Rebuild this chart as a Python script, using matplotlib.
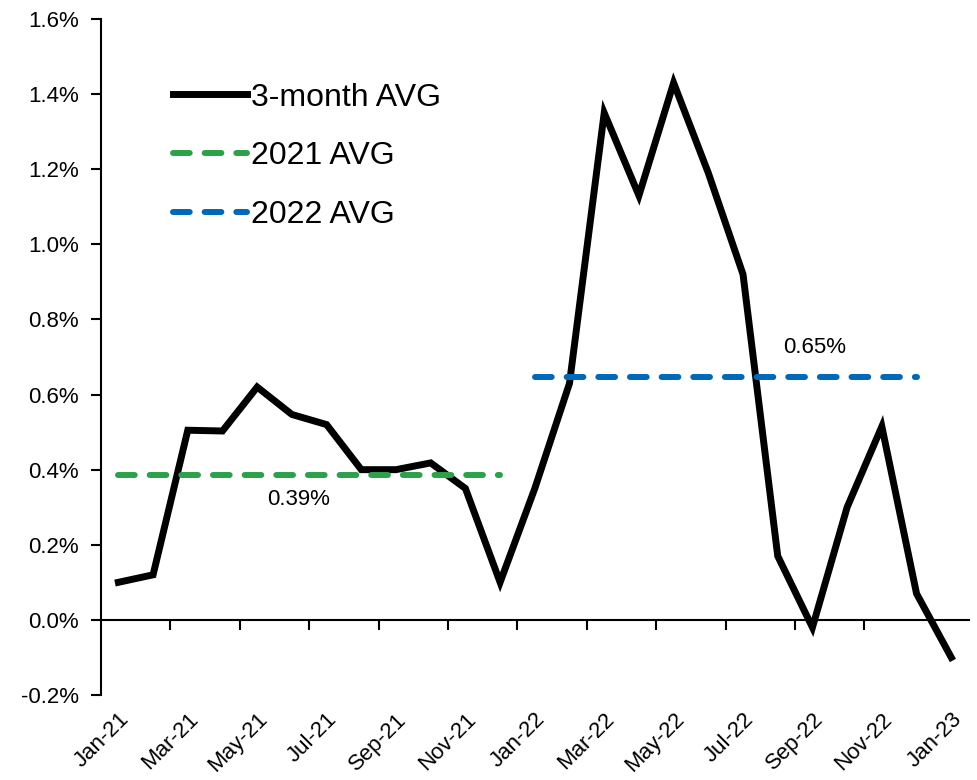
import matplotlib
matplotlib.use('Agg')
import matplotlib.pyplot as plt
from matplotlib.ticker import FuncFormatter

plt.rcParams['font.family'] = ['Liberation Sans', 'DejaVu Sans']

months = ['Jan-21', 'Feb-21', 'Mar-21', 'Apr-21', 'May-21', 'Jun-21', 'Jul-21',
          'Aug-21', 'Sep-21', 'Oct-21', 'Nov-21', 'Dec-21',
          'Jan-22', 'Feb-22', 'Mar-22', 'Apr-22', 'May-22', 'Jun-22', 'Jul-22',
          'Aug-22', 'Sep-22', 'Oct-22', 'Nov-22', 'Dec-22', 'Jan-23']
avg_3m = [0.10, 0.12, 0.505, 0.503, 0.62, 0.547, 0.52, 0.40, 0.40, 0.418, 0.35, 0.10,
          0.35, 0.63, 1.35, 1.13, 1.43, 1.19, 0.92, 0.17, -0.02, 0.30, 0.515, 0.07, -0.10]
avg_2021 = 0.387
avg_2022 = 0.646

green = '#2BA24A'
blue = '#0068B8'

if __name__ == '__main__':

    fig = plt.figure(figsize=(9.77, 7.8), dpi=100)
    ax = fig.add_axes([0.1034, 0.109, 0.888, 0.8666])

    x = list(range(len(months)))
    ax.plot(x, avg_3m, color='black', lw=5.0, solid_joinstyle='miter',
            label='3-month AVG')
    ax.plot(x[0:12], [avg_2021] * 12, color=green, lw=4.3,
            linestyle=(0, (2.8, 2.5)), dash_capstyle='round', label='2021 AVG')
    ax.plot(x[12:24], [avg_2022] * 12, color=blue, lw=4.3,
            linestyle=(0, (2.8, 2.5)), dash_capstyle='round', label='2022 AVG')

    ax.text(5.2, 0.32, '%.2f%%' % avg_2021, fontsize=16, ha='center', va='center')
    ax.text(20.05, 0.725, '%.2f%%' % avg_2022, fontsize=16, ha='center', va='center')

    ax.set_xlim(-0.5, 24.5)
    ax.set_ylim(-0.2, 1.6)
    ax.set_yticks([i * 0.2 - 0.2 for i in range(10)])
    ax.yaxis.set_major_formatter(FuncFormatter(lambda v, p: '%.1f%%' % v))
    ax.tick_params(axis='y', direction='out', length=7, width=1.5, labelsize=16, pad=9)

    # x axis line sits at zero, tick marks between every second month
    ax.spines['bottom'].set_position(('data', 0))
    ax.spines['top'].set_visible(False)
    ax.spines['right'].set_visible(False)
    ax.spines['bottom'].set_linewidth(1.5)
    ax.spines['left'].set_linewidth(1.5)
    ax.set_xticks([i + 0.5 for i in range(1, 24, 2)])
    ax.tick_params(axis='x', direction='out', length=7, width=1.5, labelbottom=False)

    # month labels at the bottom of the plot area
    sec = ax.secondary_xaxis(0)
    sec.set_xticks(x[::2], months[::2])
    sec.spines['bottom'].set_visible(False)
    sec.tick_params(axis='x', length=0, labelsize=16, pad=10)
    for lbl in sec.get_xticklabels():
        lbl.set_rotation(45)
        lbl.set_ha('right')
        lbl.set_rotation_mode('anchor')

    ax.legend(loc='upper left', bbox_to_anchor=(0.083, 0.906), frameon=False,
              fontsize=23, handlelength=2.3, handletextpad=0.15, labelspacing=0.9,
              borderpad=0, borderaxespad=0)

    fig.savefig('out.png', dpi=100)
